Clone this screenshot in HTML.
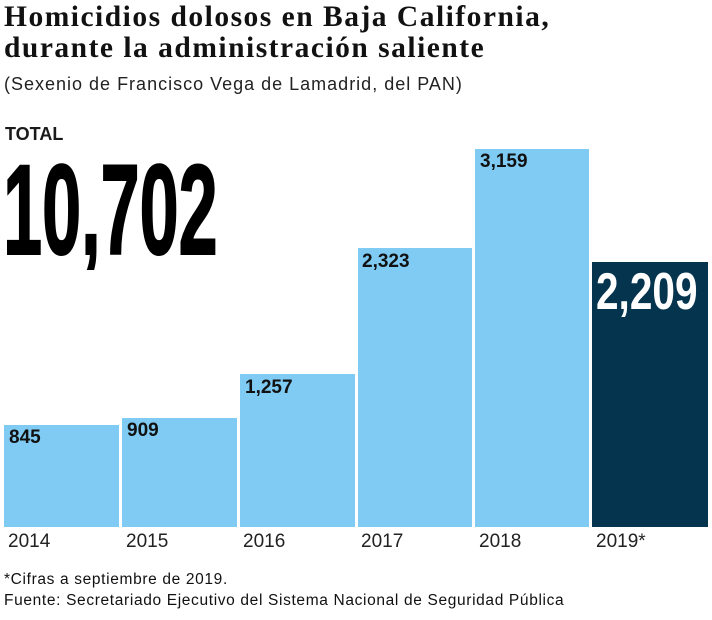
<!DOCTYPE html>
<html><head><meta charset="utf-8"><style>
body{margin:0;width:712px;height:620px;background:#fff;position:relative;overflow:hidden;font-family:"Liberation Sans",sans-serif;color:#1a1a1a}
.t{position:absolute;left:4px;top:2px;font-family:"Liberation Serif",serif;font-weight:bold;font-size:29.5px;line-height:31px;color:#111;letter-spacing:1.5px;white-space:nowrap}
.s{position:absolute;left:4px;top:74px;font-size:18px;color:#222;letter-spacing:1px}
.bar{position:absolute;background:#7fcbf3;bottom:93px}
.v{position:absolute;font-weight:bold;font-size:19px;color:#111}
.y{position:absolute;top:531px;font-size:19px;color:#222}
.f{position:absolute;left:4px;font-size:15.5px;color:#111;letter-spacing:0.65px;white-space:nowrap}
</style></head><body>
<div class="t">Homicidios dolosos en Baja California,<br>durante la administración saliente</div>
<div class="s">(Sexenio de Francisco Vega de Lamadrid, del PAN)</div>
<div style="position:absolute;left:5px;top:124px;font-weight:bold;font-size:18px">TOTAL</div>
<svg style="position:absolute;left:0;top:140px" width="240" height="130">
<text x="4" y="114" font-family="Liberation Sans Narrow, Liberation Sans, sans-serif" font-weight="bold" font-size="128" transform="scale(0.78,1)" fill="#000" stroke="#000" stroke-width="2" textLength="275" lengthAdjust="spacingAndGlyphs">10,702</text>
</svg>
<div class="bar" style="left:4px;width:115px;height:102px"></div>
<div class="bar" style="left:122px;width:115px;height:109px"></div>
<div class="bar" style="left:240px;width:115px;height:153px"></div>
<div class="bar" style="left:358px;width:114px;height:279px"></div>
<div class="bar" style="left:475px;width:114px;height:378px"></div>
<div class="bar" style="left:592px;width:116px;height:265px;background:#05344f"></div>
<div class="v" style="left:9px;top:427px">845</div>
<div class="v" style="left:127px;top:420px">909</div>
<div class="v" style="left:245px;top:377px">1,257</div>
<div class="v" style="left:362px;top:251px">2,323</div>
<div class="v" style="left:480px;top:151px">3,159</div>
<div style="position:absolute;left:596px;top:262px;color:#fff;font-weight:bold;font-size:52px;line-height:60px;transform:scaleX(0.78);transform-origin:left">2,209</div>
<div class="y" style="left:8px">2014</div>
<div class="y" style="left:126px">2015</div>
<div class="y" style="left:243px">2016</div>
<div class="y" style="left:361px">2017</div>
<div class="y" style="left:479px">2018</div>
<div class="y" style="left:596px">2019*</div>
<div class="f" style="top:571px">*Cifras a septiembre de 2019.</div>
<div class="f" style="top:592px">Fuente: Secretariado Ejecutivo del Sistema Nacional de Seguridad Pública</div>
</body></html>
